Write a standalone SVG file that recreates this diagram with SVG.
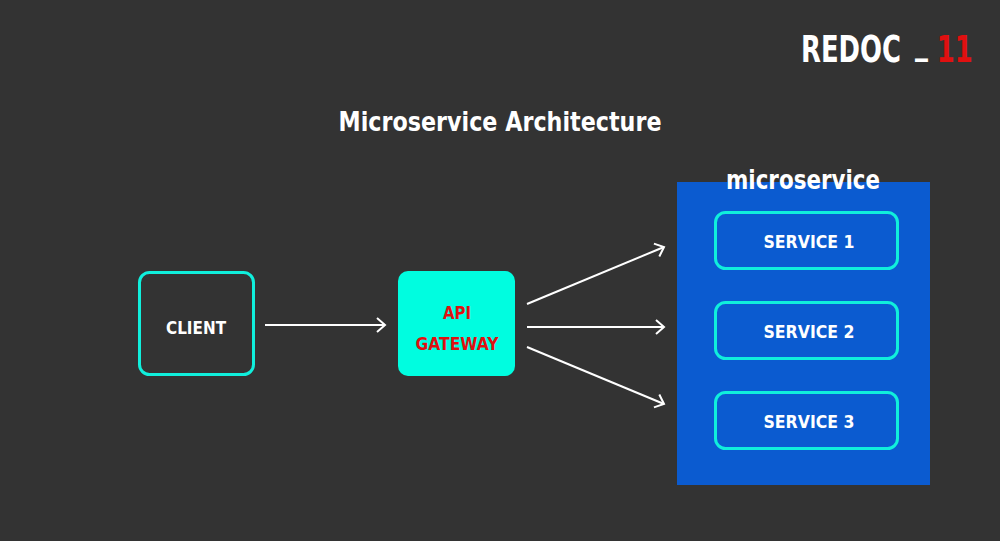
<svg xmlns="http://www.w3.org/2000/svg" width="1000" height="541" viewBox="0 0 1000 541">
<defs>
<marker id="arr" markerUnits="userSpaceOnUse" markerWidth="14" markerHeight="16" refX="10" refY="8" orient="auto">
<path d="M2,1 L10,8 L2,15" fill="none" stroke="#ffffff" stroke-width="2"/>
</marker>
</defs>
<style>
text{font-family:"DejaVu Sans","Liberation Sans",sans-serif;font-weight:bold;text-anchor:middle}
.w{fill:#ffffff}
.svc{fill:none;stroke:#10efdc;stroke-width:3}
.svct{fill:#ffffff;font-size:18px}
.conn{stroke:#ffffff;stroke-width:2;fill:none;marker-end:url(#arr)}
.logo{font-size:37px;text-anchor:start}
</style>
<rect width="1000" height="541" fill="#333333"/>
<g id="logo" transform="translate(801,62) scale(0.7,1)">
<text class="logo" x="0" y="0" fill="#ffffff">REDOC</text>
<text class="logo" x="163" y="-9" fill="#ffffff">_</text>
<text class="logo" x="194" y="0" fill="#e01010">11</text>
</g>
<g id="title">
<text class="w" x="500" y="131" font-size="26" textLength="323" lengthAdjust="spacingAndGlyphs">Microservice Architecture</text>
</g>
<g id="microservice">
<rect x="677" y="182" width="253" height="303" fill="#0b5bd0"/>
<text class="w" x="803" y="189" font-size="27" textLength="154" lengthAdjust="spacingAndGlyphs">microservice</text>
</g>
<g id="service1">
<rect class="svc" x="715.5" y="212.5" width="182" height="56" rx="10"/>
<text class="svct" x="809" y="248" textLength="91" lengthAdjust="spacingAndGlyphs">SERVICE 1</text>
</g>
<g id="service2">
<rect class="svc" x="715.5" y="302.5" width="182" height="56" rx="10"/>
<text class="svct" x="809" y="338" textLength="91" lengthAdjust="spacingAndGlyphs">SERVICE 2</text>
</g>
<g id="service3">
<rect class="svc" x="715.5" y="392.5" width="182" height="56" rx="10"/>
<text class="svct" x="809" y="428" textLength="91" lengthAdjust="spacingAndGlyphs">SERVICE 3</text>
</g>
<g id="client">
<rect class="svc" x="139.5" y="272.5" width="114" height="102" rx="10"/>
<text class="w" x="196" y="334" font-size="18" textLength="60" lengthAdjust="spacingAndGlyphs">CLIENT</text>
</g>
<g id="gateway">
<rect x="398" y="271" width="117" height="105" rx="10" fill="#00fde0"/>
<text x="457" y="319" font-size="18" fill="#e01010" textLength="28" lengthAdjust="spacingAndGlyphs">API</text>
<text x="457" y="350" font-size="18" fill="#e01010" textLength="83" lengthAdjust="spacingAndGlyphs">GATEWAY</text>
</g>
<g id="connectors">
<line class="conn" x1="265" y1="325" x2="385" y2="325"/>
<line class="conn" x1="527" y1="304" x2="664" y2="247"/>
<line class="conn" x1="527" y1="327" x2="664" y2="327"/>
<line class="conn" x1="527" y1="347" x2="664" y2="404"/>
</g>
</svg>
